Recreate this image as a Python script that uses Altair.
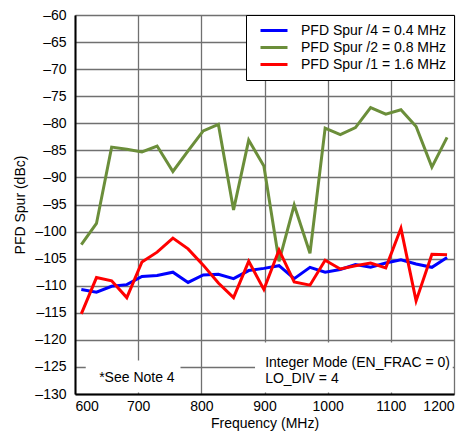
import altair as alt
import pandas as pd

freq = [610, 634, 658, 682, 706, 730, 755, 779, 803, 827, 851, 875, 899,
        923, 947, 972, 996, 1020, 1044, 1068, 1092, 1116, 1140, 1165, 1189]

spur4 = [-110.7, -111.2, -110.1, -109.8, -108.3, -108.1, -107.5, -109.4, -108.0,
         -107.9, -108.7, -107.2, -106.8, -106.3, -108.7, -106.6, -107.5, -107.0,
         -106.1, -106.6, -105.8, -105.2, -106.0, -106.6, -104.8]
spur2 = [-102.4, -98.5, -84.4, -84.8, -85.3, -84.2, -88.9, -85.1, -81.4,
         -80.2, -96.0, -83.1, -87.9, -105.5, -95.1, -104.0, -80.9, -82.1,
         -80.8, -77.1, -78.3, -77.5, -80.6, -88.1, -82.6]
spur1 = [-115.2, -108.5, -109.1, -112.2, -105.6, -103.8, -101.2, -103.2, -106.2,
         -109.5, -112.2, -105.5, -110.7, -103.4, -109.3, -109.9, -105.3, -106.9,
         -106.3, -105.8, -106.7, -99.4, -112.8, -104.2, -104.3]

series_names = ["PFD Spur /4 = 0.4 MHz", "PFD Spur /2 = 0.8 MHz", "PFD Spur /1 = 1.6 MHz"]
series_colors = ["#0000FF", "#6B8E3A", "#FF0000"]

x_ticks = [600, 700, 800, 900, 1000, 1100, 1200]
y_ticks = [-130, -125, -120, -115, -110, -105, -100, -95, -90, -85, -80, -75, -70, -65, -60]

rows = []
for name, vals in zip(series_names, [spur4, spur2, spur1]):
    for f, v in zip(freq, vals):
        rows.append({"freq": f, "value": v, "series": name})
df = pd.DataFrame(rows)

# annotation boxes (white areas that hide grid) and texts
boxes = pd.DataFrame({
    "freq": [617, 885], "freq2": [767, 1198],
    "value": [-123.8, -120.5], "value2": [-129.7, -129.7],
})
notes = pd.DataFrame({
    "freq": [698, 901, 901],
    "value": [-127.1, -124.3, -127.2],
    "text": ["*See Note 4", "Integer Mode (EN_FRAC = 0)", "LO_DIV = 4"],
    "align": ["center", "left", "left"],
})

FONT = "Liberation Sans"
FS = 14

xscale = alt.Scale(domain=[600, 1200], nice=False)
yscale = alt.Scale(domain=[-130, -60], nice=False)

label_expr_y = "datum.value < 0 ? '\u2013' + abs(datum.value) : '' + datum.value"

x_axis = alt.Axis(title="Frequency (MHz)", values=x_ticks, format="d", grid=True,
                  gridColor="#707070", gridWidth=1.3, ticks=False,
                  domainColor="black", domainWidth=2,
                  labelPadding=5, titlePadding=3, titleFontWeight="normal",
                  labelFontSize=FS, titleFontSize=FS,
                  labelFont=FONT, titleFont=FONT,
                  labelColor="black", titleColor="black")
y_axis = alt.Axis(title="PFD Spur (dBc)", values=y_ticks, labelExpr=label_expr_y,
                  grid=True, gridColor="#707070", gridWidth=1.3, ticks=False,
                  domainColor="black", domainWidth=2,
                  labelPadding=9, titlePadding=7, titleFontWeight="normal",
                  labelFontSize=FS, titleFontSize=FS,
                  labelFont=FONT, titleFont=FONT,
                  labelColor="black", titleColor="black")

lines = alt.Chart(df).mark_line(strokeWidth=3, clip=True).encode(
    x=alt.X("freq:Q", scale=xscale, axis=x_axis),
    y=alt.Y("value:Q", scale=yscale, axis=y_axis),
    color=alt.Color("series:N",
                    scale=alt.Scale(domain=series_names, range=series_colors),
                    sort=series_names,
                    legend=alt.Legend(title=None, orient="top-right", offset=0,
                                      symbolType="stroke", symbolSize=729,
                                      symbolStrokeWidth=3, labelFontSize=FS,
                                      labelFont=FONT, labelColor="black",
                                      fillColor="white", strokeColor="black",
                                      padding=7, rowPadding=0, clipHeight=17,
                                      labelOffset=12, symbolOffset=6)),
    order=alt.Order("freq:Q"),
)

rects = alt.Chart(boxes).mark_rect(fill="white", strokeWidth=0).encode(
    x=alt.X("freq:Q", scale=xscale, axis=x_axis), x2="freq2:Q",
    y=alt.Y("value:Q", scale=yscale, axis=y_axis), y2="value2:Q",
)

center_text = alt.Chart(notes[notes["align"] == "center"]).mark_text(
    align="center", baseline="middle", fontSize=FS, font=FONT, color="black"
).encode(x=alt.X("freq:Q", scale=xscale, axis=x_axis),
         y=alt.Y("value:Q", scale=yscale, axis=y_axis), text="text:N")

left_text = alt.Chart(notes[notes["align"] == "left"]).mark_text(
    align="left", baseline="middle", fontSize=FS, font=FONT, color="black"
).encode(x=alt.X("freq:Q", scale=xscale, axis=x_axis),
         y=alt.Y("value:Q", scale=yscale, axis=y_axis), text="text:N")

chart = alt.layer(rects, center_text, left_text, lines).properties(
    width=379, height=379,
    padding={"left": 5, "top": 0, "right": 5, "bottom": 5},
).configure_view(
    stroke="black", strokeWidth=2
).configure(
    background="white"
)

chart.save("out.html", embed_options={"renderer": "svg", "actions": False})
